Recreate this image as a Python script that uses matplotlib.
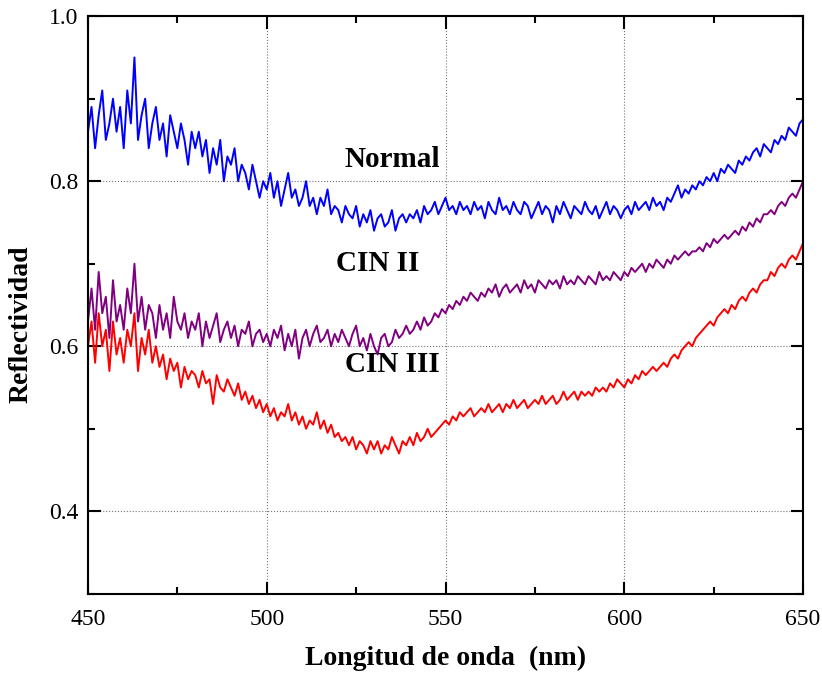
import numpy as np
import matplotlib
matplotlib.use("Agg")
import matplotlib.pyplot as plt
from matplotlib.ticker import MultipleLocator

plt.rcParams['font.family'] = ['Liberation Serif', 'DejaVu Serif']

# wavelength (nm), 1 nm step from 450 to 650
wavelength = np.arange(450, 651, 1)

normal = [
    0.86, 0.89, 0.84, 0.88, 0.91, 0.85, 0.87, 0.90, 0.86, 0.89,
    0.84, 0.91, 0.87, 0.95, 0.85, 0.88, 0.90, 0.84, 0.87, 0.89,
    0.85, 0.87, 0.83, 0.88, 0.86, 0.84, 0.87, 0.85, 0.82, 0.86,
    0.84, 0.86, 0.83, 0.85, 0.81, 0.84, 0.82, 0.85, 0.80, 0.83,
    0.82, 0.84, 0.80, 0.82, 0.81, 0.79, 0.82, 0.80, 0.78, 0.80,
    0.79, 0.81, 0.78, 0.80, 0.77, 0.79, 0.81, 0.78, 0.79, 0.77,
    0.78, 0.80, 0.77, 0.78, 0.76, 0.78, 0.77, 0.79, 0.76, 0.77,
    0.765, 0.75, 0.77, 0.76, 0.755, 0.77, 0.745, 0.76, 0.75, 0.765,
    0.74, 0.755, 0.76, 0.745, 0.75, 0.765, 0.74, 0.755, 0.76, 0.75,
    0.76, 0.755, 0.765, 0.75, 0.77, 0.76, 0.765, 0.775, 0.76, 0.77,
    0.78, 0.765, 0.77, 0.76, 0.775, 0.765, 0.77, 0.76, 0.775, 0.765,
    0.77, 0.755, 0.775, 0.765, 0.76, 0.78, 0.765, 0.77, 0.76, 0.775,
    0.765, 0.76, 0.775, 0.77, 0.755, 0.765, 0.775, 0.76, 0.77, 0.765,
    0.75, 0.77, 0.76, 0.775, 0.765, 0.755, 0.77, 0.765, 0.76, 0.775,
    0.765, 0.76, 0.77, 0.755, 0.765, 0.775, 0.76, 0.77, 0.765, 0.755,
    0.765, 0.77, 0.76, 0.775, 0.765, 0.77, 0.775, 0.765, 0.78, 0.77,
    0.775, 0.765, 0.78, 0.775, 0.785, 0.795, 0.78, 0.79, 0.785, 0.795,
    0.79, 0.80, 0.795, 0.805, 0.80, 0.81, 0.80, 0.815, 0.81, 0.82,
    0.815, 0.81, 0.825, 0.82, 0.83, 0.825, 0.835, 0.84, 0.83, 0.845,
    0.84, 0.835, 0.85, 0.845, 0.855, 0.85, 0.865, 0.86, 0.855, 0.87,
    0.875,
]

cin2 = [
    0.63, 0.67, 0.62, 0.69, 0.64, 0.66, 0.61, 0.68, 0.63, 0.65,
    0.62, 0.67, 0.64, 0.70, 0.63, 0.66, 0.62, 0.65, 0.64, 0.61,
    0.65, 0.62, 0.64, 0.61, 0.66, 0.63, 0.62, 0.64, 0.61, 0.63,
    0.62, 0.64, 0.60, 0.63, 0.61, 0.625, 0.64, 0.605, 0.62, 0.63,
    0.61, 0.625, 0.60, 0.62, 0.615, 0.63, 0.60, 0.615, 0.62, 0.605,
    0.615, 0.60, 0.62, 0.61, 0.625, 0.595, 0.615, 0.60, 0.62, 0.585,
    0.61, 0.62, 0.60, 0.615, 0.625, 0.605, 0.61, 0.62, 0.60, 0.615,
    0.605, 0.62, 0.61, 0.60, 0.615, 0.625, 0.60, 0.61, 0.595, 0.615,
    0.60, 0.59, 0.61, 0.615, 0.60, 0.605, 0.62, 0.61, 0.615, 0.625,
    0.615, 0.62, 0.63, 0.62, 0.635, 0.625, 0.63, 0.64, 0.635, 0.645,
    0.64, 0.65, 0.645, 0.655, 0.65, 0.66, 0.655, 0.665, 0.66, 0.655,
    0.665, 0.66, 0.67, 0.665, 0.675, 0.66, 0.67, 0.675, 0.665, 0.67,
    0.675, 0.665, 0.68, 0.67, 0.675, 0.665, 0.68, 0.675, 0.67, 0.68,
    0.675, 0.68, 0.67, 0.685, 0.675, 0.68, 0.675, 0.685, 0.68, 0.675,
    0.685, 0.68, 0.675, 0.69, 0.68, 0.685, 0.68, 0.69, 0.685, 0.68,
    0.69, 0.685, 0.695, 0.69, 0.695, 0.70, 0.69, 0.70, 0.695, 0.705,
    0.70, 0.695, 0.705, 0.70, 0.71, 0.705, 0.71, 0.715, 0.71, 0.715,
    0.715, 0.72, 0.715, 0.725, 0.72, 0.73, 0.725, 0.73, 0.735, 0.73,
    0.735, 0.74, 0.735, 0.745, 0.74, 0.75, 0.745, 0.755, 0.75, 0.76,
    0.76, 0.765, 0.76, 0.77, 0.775, 0.77, 0.78, 0.785, 0.78, 0.79,
    0.80,
]

cin3 = [
    0.60, 0.63, 0.58, 0.64, 0.60, 0.62, 0.57, 0.63, 0.59, 0.61,
    0.58, 0.62, 0.60, 0.64, 0.57, 0.61, 0.59, 0.62, 0.58, 0.60,
    0.575, 0.59, 0.56, 0.585, 0.57, 0.58, 0.55, 0.575, 0.56, 0.57,
    0.565, 0.55, 0.57, 0.555, 0.56, 0.53, 0.565, 0.55, 0.545, 0.56,
    0.55, 0.54, 0.555, 0.535, 0.545, 0.53, 0.54, 0.525, 0.535, 0.52,
    0.53, 0.515, 0.525, 0.51, 0.52, 0.515, 0.53, 0.51, 0.52, 0.505,
    0.515, 0.50, 0.51, 0.505, 0.52, 0.50, 0.51, 0.495, 0.505, 0.49,
    0.495, 0.485, 0.49, 0.48, 0.49, 0.475, 0.485, 0.48, 0.47, 0.485,
    0.475, 0.485, 0.47, 0.48, 0.475, 0.49, 0.48, 0.47, 0.485, 0.48,
    0.49, 0.48, 0.495, 0.485, 0.49, 0.50, 0.49, 0.495, 0.50, 0.505,
    0.51, 0.505, 0.515, 0.51, 0.52, 0.515, 0.52, 0.525, 0.515, 0.52,
    0.525, 0.52, 0.53, 0.52, 0.525, 0.53, 0.52, 0.53, 0.525, 0.535,
    0.525, 0.53, 0.535, 0.525, 0.53, 0.535, 0.53, 0.54, 0.53, 0.535,
    0.54, 0.53, 0.535, 0.545, 0.535, 0.54, 0.545, 0.535, 0.545, 0.54,
    0.545, 0.54, 0.55, 0.545, 0.55, 0.545, 0.555, 0.55, 0.56, 0.555,
    0.55, 0.56, 0.555, 0.565, 0.56, 0.57, 0.565, 0.57, 0.575, 0.57,
    0.575, 0.58, 0.575, 0.585, 0.59, 0.585, 0.595, 0.60, 0.605, 0.60,
    0.61, 0.615, 0.62, 0.625, 0.63, 0.625, 0.635, 0.64, 0.645, 0.64,
    0.65, 0.645, 0.655, 0.66, 0.655, 0.665, 0.67, 0.665, 0.675, 0.68,
    0.68, 0.69, 0.685, 0.695, 0.70, 0.695, 0.705, 0.71, 0.705, 0.715,
    0.725,
]

fig = plt.figure(figsize=(8.22, 6.74), dpi=100)
ax = fig.add_axes([0.107, 0.119, 0.870, 0.857])

ax.plot(wavelength, normal, color='#0000ff', lw=1.4)
ax.plot(wavelength, cin2, color='#800080', lw=1.4)
ax.plot(wavelength, cin3, color='#ff0000', lw=1.4)

# curve labels
ax.text(535, 0.826, 'Normal', fontsize=21, fontweight='bold', ha='center', va='center')
ax.text(531, 0.700, 'CIN II', fontsize=21, fontweight='bold', ha='center', va='center')
ax.text(535, 0.578, 'CIN III', fontsize=21, fontweight='bold', ha='center', va='center')

ax.set_xlim(450, 650)
ax.set_ylim(0.3, 1.0)
ax.xaxis.set_major_locator(MultipleLocator(50))
ax.xaxis.set_minor_locator(MultipleLocator(25))
ax.yaxis.set_major_locator(MultipleLocator(0.2))
ax.yaxis.set_minor_locator(MultipleLocator(0.1))
ax.set_yticks([0.4, 0.6, 0.8, 1.0])
ax.set_yticklabels(['0.4', '0.6', '0.8', '1.0'])

ax.tick_params(which='both', direction='in', top=True, right=True, width=1.5, labelsize=17)
ax.tick_params(which='major', length=9)
ax.tick_params(which='minor', length=5)
ax.tick_params(axis='x', pad=11)
ax.tick_params(axis='y', pad=7)

ax.grid(True, which='major', linestyle=':', color='#777777', linewidth=0.8)
for s in ax.spines.values():
    s.set_linewidth(1.5)

ax.set_xlabel('Longitud de onda  (nm)', fontsize=20, fontweight='bold')
ax.set_ylabel('Reflectividad', fontsize=20, fontweight='bold')
ax.xaxis.set_label_coords(0.500, -0.090)
ax.yaxis.set_label_coords(-0.076, 0.467)

fig.savefig('out.png', dpi=100)
